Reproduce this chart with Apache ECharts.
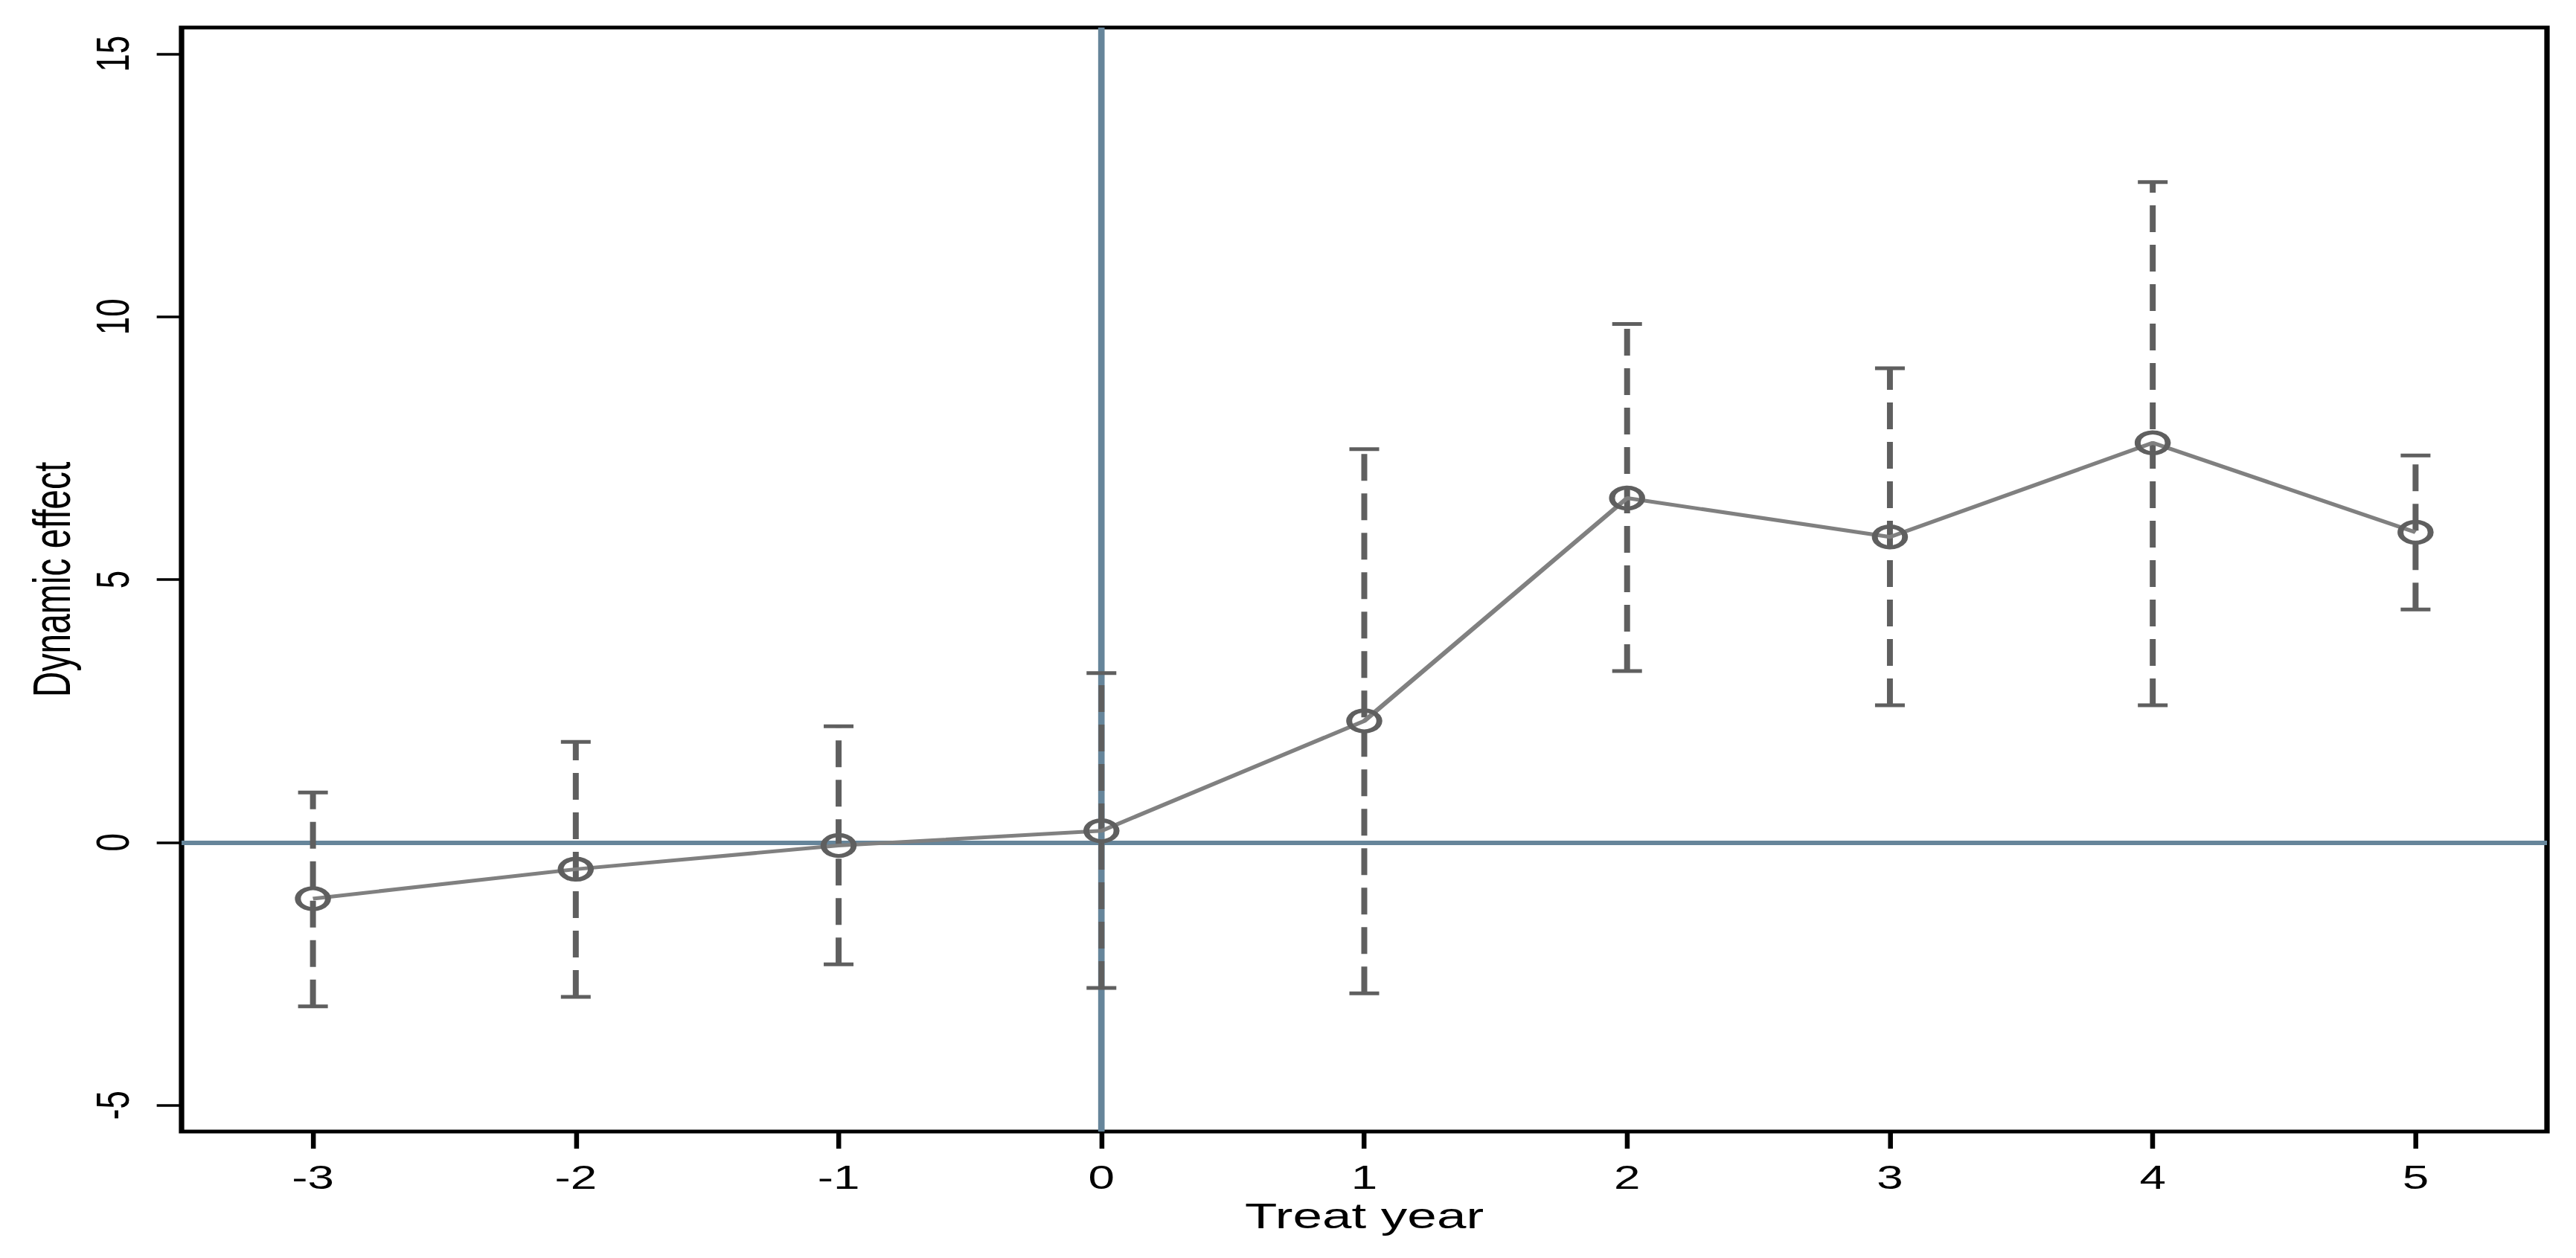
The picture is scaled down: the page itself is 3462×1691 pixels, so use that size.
<!DOCTYPE html>
<html>
<head>
<meta charset="utf-8">
<script src="https://cdn.jsdelivr.net/npm/echarts@6/dist/echarts.min.js"></script>
<style>
  html, body { margin: 0; padding: 0; background: #fff; overflow: hidden; }
  #wrap { width: 3462px; height: 1691px; overflow: hidden; background: #fff; }
  #c { width: 2388px; height: 1691px; transform: scaleX(1.44975); transform-origin: 0 0; }
</style>
</head>
<body>
<div id="wrap"><div id="c"></div></div>
<script>
// ---- data ----
const years = [-3, -2, -1, 0, 1, 2, 3, 4, 5];
const effect = [-1.07, -0.51, -0.06, 0.22, 2.31, 6.55, 5.81, 7.60, 5.90];
const ciUpper = [0.95, 1.91, 2.21, 3.22, 7.48, 9.86, 9.02, 12.56, 7.36];
const ciLower = [-3.12, -2.94, -2.32, -2.77, -2.87, 3.26, 2.61, 2.61, 4.43];
const xTicks = [-3, -2, -1, 0, 1, 2, 3, 4, 5];
const yTicks = [-5, 0, 5, 10, 15];

const FONT = "'Liberation Sans', Arial, Helvetica, sans-serif";
const BAR = '#5f5f5f';
const LINE = '#808080';
const REF = '#66859a';

const chart = echarts.init(document.getElementById('c'), null, { renderer: 'svg' });

const barData = years.map((y, i) => [y, ciLower[i], ciUpper[i]]);
const lineData = years.map((y, i) => [y, effect[i]]);

chart.setOption({
  animation: false,
  backgroundColor: '#fff',
  grid: {
    left: 168.3, right: 26.9, top: 37, bottom: 170,
    show: true, borderColor: '#000', borderWidth: 5,
    containLabel: false, outerBoundsMode: 'none'
  },
  xAxis: {
    type: 'value', min: -3.5, max: 5.5,
    splitLine: { show: false },
    axisLine: { show: false, onZero: false },
    axisTick: { show: true, customValues: xTicks, length: 23, lineStyle: { color: '#000', width: 4.5 } },
    axisLabel: { customValues: xTicks, fontSize: 44, color: '#000', margin: 40, fontFamily: FONT },
    name: 'Treat year', nameLocation: 'middle', nameGap: 86,
    nameTextStyle: { fontSize: 49, color: '#000', fontFamily: FONT }
  },
  yAxis: {
    type: 'value', min: -5.5, max: 15.5,
    splitLine: { show: false },
    axisLine: { show: false, onZero: false },
    axisTick: { show: true, customValues: yTicks, length: 23, lineStyle: { color: '#000', width: 3.5 } },
    axisLabel: { customValues: yTicks, fontSize: 44, color: '#000', margin: 42, rotate: 90, fontFamily: FONT },
    name: 'Dynamic effect', nameLocation: 'middle', nameGap: 96,
    nameTextStyle: { fontSize: 48, color: '#000', fontFamily: FONT }
  },
  series: [
    {
      type: 'line', data: [], z: 1, silent: true,
      markLine: {
        z: 1, silent: true, symbol: ['none', 'none'], animation: false,
        label: { show: false },
        lineStyle: { color: REF, width: 6, type: 'solid' },
        emphasis: { disabled: true },
        data: [{ xAxis: 0 }, { yAxis: 0 }]
      }
    },
    {
      type: 'custom', z: 3, silent: true,
      data: barData,
      encode: { x: 0, y: [1, 2] },
      renderItem: function (params, api) {
        const x = api.value(0), lo = api.value(1), hi = api.value(2);
        const pLo = api.coord([x, lo]);
        const pHi = api.coord([x, hi]);
        const cw = 13.8;
        return {
          type: 'group',
          children: [
            { type: 'line', shape: { x1: pLo[0], y1: pLo[1], x2: pHi[0], y2: pHi[1] },
              style: { stroke: BAR, lineWidth: 5.5, lineDash: [36, 17], lineCap: 'butt' } },
            { type: 'line', shape: { x1: pLo[0] - cw, y1: pLo[1], x2: pLo[0] + cw, y2: pLo[1] },
              style: { stroke: BAR, lineWidth: 5 } },
            { type: 'line', shape: { x1: pHi[0] - cw, y1: pHi[1], x2: pHi[0] + cw, y2: pHi[1] },
              style: { stroke: BAR, lineWidth: 5 } }
          ]
        };
      }
    },
    {
      type: 'line', z: 4, silent: true,
      data: lineData,
      symbol: 'circle', symbolSize: 28,
      lineStyle: { color: LINE, width: 5 },
      itemStyle: { color: 'rgba(0,0,0,0)', borderColor: BAR, borderWidth: 5.5 }
    }
  ]
});
</script>
</body>
</html>
